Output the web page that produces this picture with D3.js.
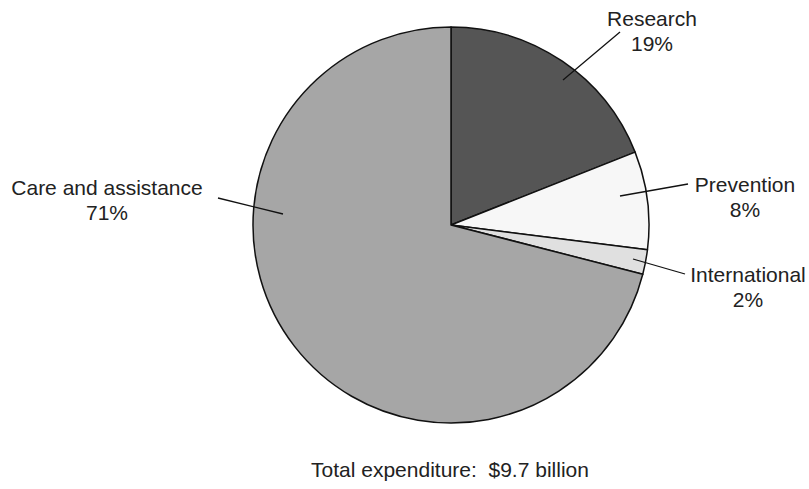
<!DOCTYPE html>
<html>
<head>
<meta charset="utf-8">
<script src="https://cdn.jsdelivr.net/npm/d3@7"></script>
<style>
  body { margin: 0; background: #fff; }
  svg { display: block; font-family: "Liberation Sans", Arial, Helvetica, sans-serif; }
</style>
</head>
<body>
<div id="chart"></div>
<script>
  // chart data
  const categories = ['Research', 'Prevention', 'International', 'Care and assistance'];
  const shares = [19, 8, 2, 71];
  const fills = ['#555555', '#f7f7f7', '#e0e0e0', '#a6a6a6'];
  const totalNote = 'Total expenditure:\u00a0\u00a0$9.7 billion';

  const width = 809, height = 489;
  const cx = 451, cy = 225, radius = 198;

  // where each label sits (relative to pie centre) and its leader line ends
  const labelLayout = [
    { inner: [112, -145], outer: [169, -193], text: [201, -199] },
    { inner: [169, -29],  outer: [237, -41],  text: [294, -33] },
    { inner: [182, 34],   outer: [234, 49],   text: [297, 57] },
    { inner: [-168, -11], outer: [-233, -27], text: [-344, -30] }
  ];

  const svg = d3.select('#chart')
    .append('svg')
    .attr('width', width)
    .attr('height', height);

  const pie = d3.pie().sort(null).value(d => d.value);
  const arc = d3.arc().innerRadius(0).outerRadius(radius);

  const data = categories.map((c, i) => ({ name: c, value: shares[i], fill: fills[i] }));

  const g = svg.append('g').attr('transform', `translate(${cx},${cy})`);

  g.selectAll('path.slice')
    .data(pie(data))
    .enter()
    .append('path')
      .attr('class', 'slice')
      .attr('d', arc)
      .attr('fill', d => d.data.fill)
      .attr('stroke', '#111')
      .attr('stroke-width', 1.5)
      .attr('stroke-linejoin', 'round');

  // leader lines
  g.selectAll('line.leader')
    .data(labelLayout)
    .enter()
    .append('line')
      .attr('class', 'leader')
      .attr('x1', d => d.inner[0]).attr('y1', d => d.inner[1])
      .attr('x2', d => d.outer[0]).attr('y2', d => d.outer[1])
      .attr('stroke', '#111')
      .attr('stroke-width', 1.3);

  let labels = g.selectAll('text.lbl')
    .data(data)
    .enter()
    .append('text')
      .attr('class', 'lbl')
      .attr('text-anchor', 'middle')
      .attr('font-size', 21)
      .attr('fill', '#222');

  labels.append('tspan')
    .attr('x', (d, i) => labelLayout[i].text[0])
    .attr('y', (d, i) => labelLayout[i].text[1])
    .text(d => d.name);

  labels.append('tspan')
    .attr('x', (d, i) => labelLayout[i].text[0])
    .attr('y', (d, i) => labelLayout[i].text[1] + 24.5)
    .text(d => d.value + '%');

  svg.append('text')
    .attr('x', 450)
    .attr('y', 477)
    .attr('text-anchor', 'middle')
    .attr('font-size', 21)
    .attr('fill', '#222')
    .text(totalNote);
</script>
</body>
</html>
